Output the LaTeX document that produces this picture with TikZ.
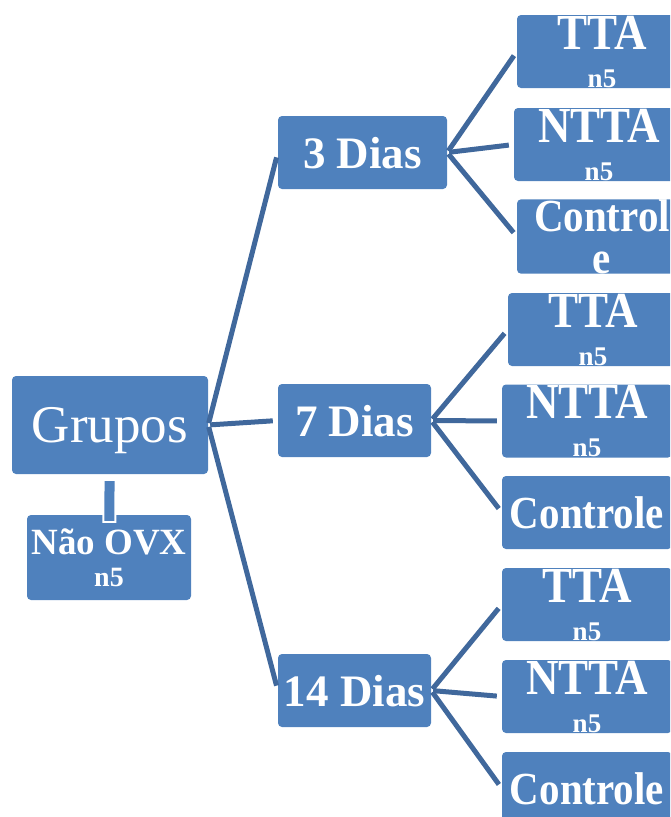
\documentclass[tikz,border=0pt]{standalone}
\usepackage{graphicx}
\usepackage{fontspec}
\setmainfont{Liberation Serif}
\definecolor{boxblue}{RGB}{79,129,189}
\definecolor{linkblue}{RGB}{64,104,156}
\newcommand{\tallword}[1]{\scalebox{1}[1.12]{#1}}

\begin{document}
\begin{tikzpicture}[x=1pt, y=-1pt,
      box/.style={rectangle, rounded corners=4pt, fill=boxblue, text=white,
                  inner sep=0pt, align=center},
      daybox/.style={box, minimum height=73pt, text depth=0pt,
                  font=\bfseries\fontsize{45}{45}\selectfont},
      leafbox/.style={box, minimum width=170pt, minimum height=73pt,
                  font=\bfseries\fontsize{45}{38}\selectfont},
      ctrlbox/.style={box, minimum width=170pt, minimum height=73pt,
                  font=\bfseries\fontsize{41}{42}\selectfont},
      link/.style={line width=5pt, draw=linkblue, shorten <=2pt, shorten >=5pt}]
    \useasboundingbox (0,0) rectangle (670,817);
    \clip (0,0) rectangle (670,817);
    % root
    \node[box, minimum width=196pt, minimum height=98pt, text depth=0pt,
          font=\fontsize{53}{53}\selectfont] (grupos) at (110,425) {Grupos};
    \node[box, minimum width=164pt, minimum height=85pt,
          font=\bfseries\fontsize{37}{32}\selectfont] (naoovx) at (109,557.5)
          {Não OVX\\{\fontsize{28}{28}\selectfont n5}};
    % days
    \node[daybox, minimum width=169pt] (dias3) at (362.5,152.5) {3 Dias};
    \node[daybox, minimum width=153pt] (dias7) at (354.5,420.5) {7 Dias};
    \node[daybox, minimum width=153pt] (dias14) at (354.5,690.5) {14 Dias};
    % groups, 3 days
    \node[leafbox] (tta3) at (602,51.5) {\tallword{TTA}\\{\fontsize{27}{27}\selectfont n5}};
    \node[leafbox] (ntta3) at (599,144.5) {\tallword{NTTA}\\{\fontsize{27}{27}\selectfont n5}};
    \node[ctrlbox] (ctrl3) at (602,236.5) {\tallword{Control}\\\tallword{e}};
    % groups, 7 days
    \node[leafbox] (tta7) at (593,329.5) {\tallword{TTA}\\{\fontsize{27}{27}\selectfont n5}};
    \node[leafbox] (ntta7) at (587,421) {\tallword{NTTA}\\{\fontsize{27}{27}\selectfont n5}};
    \node[ctrlbox, text depth=0pt] (ctrl7) at (587,512.5) {\tallword{Controle}};
    % groups, 14 days
    \node[leafbox] (tta14) at (587,604.5) {\tallword{TTA}\\{\fontsize{27}{27}\selectfont n5}};
    \node[leafbox] (ntta14) at (587,696.5) {\tallword{NTTA}\\{\fontsize{27}{27}\selectfont n5}};
    \node[ctrlbox, text depth=0pt] (ctrl14) at (587,788.5) {\tallword{Controle}};
    % connectors
    \draw[line width=14pt, white, shorten <=5pt, shorten >=-8pt] (grupos) -- (naoovx);
    \draw[line width=10pt, boxblue, shorten <=7pt, shorten >=-6pt] (grupos) -- (naoovx);
    \draw[link] (grupos.east) -- (dias3.west);
    \draw[link] (grupos.east) -- (dias7.west);
    \draw[link] (grupos.east) -- (dias14.west);
    \draw[link] (dias3.east) -- (tta3.west);
    \draw[link] (dias3.east) -- (ntta3.west);
    \draw[link] (dias3.east) -- (ctrl3.west);
    \draw[link] (dias7.east) -- (tta7.west);
    \draw[link] (dias7.east) -- (ntta7.west);
    \draw[link] (dias7.east) -- (ctrl7.west);
    \draw[link] (dias14.east) -- (tta14.west);
    \draw[link] (dias14.east) -- (ntta14.west);
    \draw[link] (dias14.east) -- (ctrl14.west);
  \end{tikzpicture}
\end{document}
